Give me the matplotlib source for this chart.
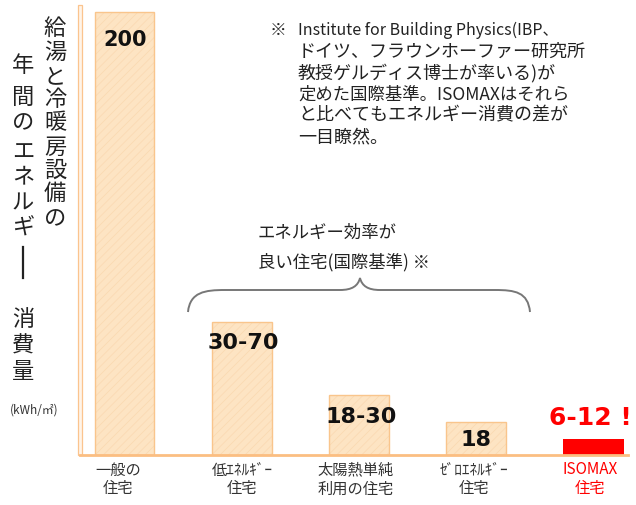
import matplotlib
matplotlib.use("Agg")
import matplotlib.pyplot as plt
from matplotlib.transforms import Affine2D
from matplotlib.path import Path
from matplotlib.patches import PathPatch, Rectangle

plt.rcParams['font.family'] = ['Noto Sans CJK JP', 'DejaVu Sans']
plt.rcParams['hatch.color'] = "#FAD8B0"
plt.rcParams['hatch.linewidth'] = 0.5

# ---- data ----
categories = ["一般の\n住宅", "低ｴﾈﾙｷﾞｰ\n住宅", "太陽熱単純\n利用の住宅", "ｾﾞﾛｴﾈﾙｷﾞｰ\n住宅", "ISOMAX\n住宅"]
values = [200, 60, 27, 15, 7]          # drawn bar heights (kWh/m2)
value_labels = ["200", "30-70", "18-30", "18", "6-12 !"]
highlight = [False, False, False, False, True]

W, H = 636, 505
fig = plt.figure(figsize=(W / 100, H / 100), dpi=100)
PX = Affine2D().scale(1 / W, -1 / H).translate(0, 1) + fig.transFigure

# axes: x 80..636 px, y 5..455 px
ax = fig.add_axes([80 / W, (H - 455) / H, 556 / W, 450 / H])
unit = 117.3
ax.set_xlim((80 - 124.5) / unit, (636 - 124.5) / unit)
ax.set_ylim(0, 450 / 2.215)
ax.axis('off')

peach_face = "#FDE4C3"
peach_edge = "#F9C58C"
red = "#FF0000"

xs = list(range(len(categories)))
for x, v, hl in zip(xs, values, highlight):
    if hl:
        ax.bar(x, v, width=0.52, color=red, edgecolor=red, linewidth=0, zorder=3)
    else:
        b = ax.bar(x, v, width=0.51, color=peach_face, edgecolor=peach_edge,
                   linewidth=1.0, hatch='////', zorder=2)
        for p in b:
            p._hatch_color = matplotlib.colors.to_rgba("#FAD8B0")

# baseline
fig.add_artist(plt.Line2D([80, 628], [455, 455], transform=PX, color="#FBBE82", lw=2, zorder=5))
# left axis (thin double-line bar)
fig.add_artist(Rectangle((78, 5), 4, 450, transform=PX, facecolor="#FFF4E8",
                         edgecolor="#FBC48E", lw=0.9))

# value labels (pixel positions of label centres)
label_pos = [(125, 40), (243, 343), (361, 417), (476, 440), (590, 418)]
label_size = [15, 16, 16, 16, 18]
for (lx, ly), t, s, hl in zip(label_pos, value_labels, label_size, highlight):
    fig.text(lx / W, 1 - ly / H, t, ha='center', va='center', fontsize=s,
             fontweight='bold', family='DejaVu Sans', color=red if hl else '#111111')

# category labels
cat_x = [118, 242, 356, 474, 590]
for cx, c, hl in zip(cat_x, categories, highlight):
    l1, l2 = c.split("\n")
    col = red if hl else '#333333'
    fig.text(cx / W, 1 - 470 / H, l1, ha='center', va='center', fontsize=11, color=col)
    fig.text(cx / W, 1 - 489 / H, l2, ha='center', va='center', fontsize=11, color=col)

# vertical y-axis title
col_right = "給湯と冷暖房設備の"
ys_right = [28, 52, 77, 100, 123, 147, 170, 193, 219]
for ch, yy in zip(col_right, ys_right):
    fig.text(55 / W, 1 - yy / H, ch, ha='center', va='center', fontsize=16, color='#222222')
col_left = "年間のエネルギ"
ys_left = [66, 97, 123, 152, 177, 203, 228]
for ch, yy in zip(col_left, ys_left):
    fig.text(23 / W, 1 - yy / H, ch, ha='center', va='center', fontsize=16, color='#222222')
# vertical long-vowel mark "ー"
fig.add_artist(plt.Line2D([23, 23], [247, 278], transform=PX, color='#222222', lw=1.6))
for ch, yy in zip("消費量", [320, 346, 372]):
    fig.text(23 / W, 1 - yy / H, ch, ha='center', va='center', fontsize=16, color='#222222')
fig.text(34 / W, 1 - 410 / H, "(kWh/㎡)", ha='center', va='center', fontsize=8.5, color='#333333')

# note text
note_lines = ["Institute for Building Physics(IBP、",
              "ドイツ、フラウンホーファー研究所",
              "教授ゲルディス博士が率いる)が",
              "定めた国際基準。ISOMAXはそれら",
              "と比べてもエネルギー消費の差が",
              "一目瞭然。"]
note_size = [11.5, 13, 13, 12.5, 13, 13]
fig.text(270 / W, 1 - 30 / H, "※", ha='left', va='center', fontsize=12, color='#222222')
for i, (ln, s) in enumerate(zip(note_lines, note_size)):
    fig.text(298 / W, 1 - (30 + 21.4 * i) / H, ln, ha='left', va='center',
             fontsize=s, color='#222222')

# brace
verts = [(188, 312), (190, 292), (205, 290), (225, 290),
         (340, 290),
         (352, 290), (358, 286), (360, 278),
         (362, 286), (368, 290), (380, 290),
         (495, 290),
         (515, 290), (528, 292), (530, 312)]
codes = [Path.MOVETO, Path.CURVE4, Path.CURVE4, Path.CURVE4,
         Path.LINETO,
         Path.CURVE4, Path.CURVE4, Path.CURVE4,
         Path.CURVE4, Path.CURVE4, Path.CURVE4,
         Path.LINETO,
         Path.CURVE4, Path.CURVE4, Path.CURVE4]
fig.add_artist(PathPatch(Path(verts, codes), transform=PX, facecolor='none',
                         edgecolor='#777777', lw=1.4))
fig.text(258 / W, 1 - 233 / H, "エネルギー効率が", ha='left', va='center', fontsize=12.5, color='#222222')
fig.text(258 / W, 1 - 262 / H, "良い住宅(国際基準) ※", ha='left', va='center', fontsize=12.5, color='#222222')

fig.savefig("out.png", dpi=100)
